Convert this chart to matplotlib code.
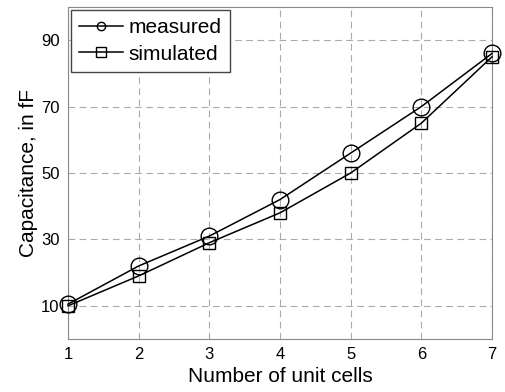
import matplotlib
matplotlib.use('Agg')
import matplotlib.pyplot as plt

plt.rcParams['font.family'] = ['Liberation Sans', 'DejaVu Sans']

cells = [1, 2, 3, 4, 5, 6, 7]
measured = [10.5, 22, 31, 42, 56, 70, 86]
simulated = [10, 19, 29, 38, 50, 65, 85]

fig = plt.figure(figsize=(5.06, 3.92), dpi=100)
ax = fig.add_axes([68 / 506, 1 - 339 / 392, (492 - 68) / 506, (339 - 7) / 392])

ax.plot(cells, measured, color='black', lw=1.1, marker='o', ms=12,
        mfc='none', mec='black', mew=1.0, label='measured', clip_on=False, zorder=3)
ax.plot(cells, simulated, color='black', lw=1.1, marker='s', ms=9,
        mfc='none', mec='black', mew=1.0, label='simulated', clip_on=False, zorder=3)

ax.set_xlim(1, 7)
ax.set_ylim(0, 100)
ax.set_xticks(cells)
ax.set_yticks([10, 30, 50, 70, 90])
ax.grid(True, color='#aaaaaa', linestyle=(0, (6, 4)), lw=0.8)
for s in ax.spines.values():
    s.set_color('#888888')
ax.tick_params(length=0, labelsize=12, pad=6)

ax.set_xlabel('Number of unit cells', fontsize=15, labelpad=3)
ax.set_ylabel('Capacitance, in fF', fontsize=15, labelpad=2)

leg = ax.legend(loc='upper left', fontsize=15, fancybox=False,
                framealpha=1, edgecolor='#444444', handlelength=2.1,
                handletextpad=0.25, borderaxespad=0.15, labelspacing=0.35,
                borderpad=0.4)
leg.get_frame().set_linewidth(1.0)
leg.set_zorder(5)
for h, size in zip(leg.get_lines(), [6, 7]):
    h.set_markersize(size)

fig.savefig('out.png', dpi=100)
